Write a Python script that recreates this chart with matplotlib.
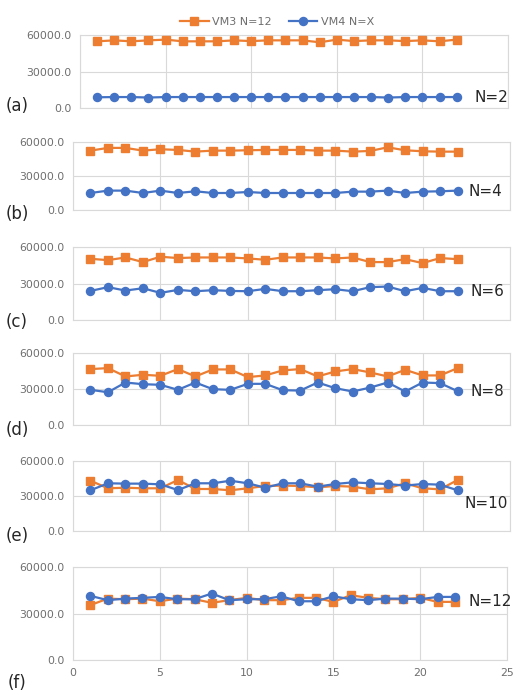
import matplotlib
matplotlib.use("Agg")
import matplotlib.pyplot as plt

W, H = 516, 695

x = list(range(1, 23))

vm3_a = [54800, 55600, 54800, 55600, 56200, 54800, 54800, 54800, 55600, 55000, 55600, 55600,
         55600, 54000, 56200, 55000, 55600, 55600, 55000, 55600, 54800, 56200]
vm4_a = [8800, 9000, 9000, 8600, 9000, 9000, 9000, 9000, 9000, 9000, 9000, 9000,
         9000, 9000, 9000, 9000, 9000, 8600, 9000, 9000, 9000, 9000]

vm3_b = [52400, 54800, 54800, 52400, 53600, 53000, 51500, 52400, 52400, 52700, 53000, 53000,
         53000, 52400, 52400, 51500, 52100, 55300, 52700, 51800, 51500, 51500]
vm4_b = [15000, 17100, 17100, 15000, 17100, 15000, 16500, 15000, 15000, 15900, 15000, 15000,
         15000, 15000, 15000, 16200, 16200, 17100, 15000, 16200, 16500, 17100]

vm3_c = [50300, 49200, 51400, 47600, 52000, 50900, 51400, 51400, 51400, 50600, 49500, 51400,
         51400, 51400, 50600, 51400, 47600, 47600, 50000, 46750, 50900, 50000]
vm4_c = [23900, 27000, 24200, 26100, 22300, 24750, 23650, 24500, 23900, 23650, 25600, 23650,
         23650, 24500, 25300, 23650, 27000, 27500, 23650, 26400, 23650, 23650]

vm3_d = [46600, 47400, 40450, 41850, 41000, 46600, 40450, 46300, 46300, 39900, 41300, 45500,
         46600, 40450, 44600, 46600, 43800, 40450, 46000, 41300, 41300, 47400]
vm4_d = [29300, 27300, 35400, 34000, 33500, 29300, 35400, 29850, 29300, 34300, 34300, 29000,
         28700, 35400, 30700, 27900, 31200, 35400, 27900, 35400, 34900, 28200]

vm3_e = [43100, 36600, 37100, 36600, 36600, 43700, 36000, 36000, 34900, 36600, 38600, 38900,
         38600, 37400, 38600, 38000, 35700, 36600, 40900, 36600, 35700, 43700]
vm4_e = [34900, 40900, 40600, 40600, 40000, 35100, 40900, 40900, 43100, 40900, 37100, 40900,
         40900, 38000, 40300, 41700, 40900, 40300, 38900, 40300, 39700, 34900]

vm3_f = [35400, 39600, 39200, 39600, 37900, 39600, 39200, 36900, 38600, 40100, 38600, 38600,
         40100, 40100, 37500, 41800, 40100, 39200, 39200, 40100, 37500, 37500]
vm4_f = [41400, 38600, 39600, 40100, 40700, 39200, 39200, 42900, 38600, 39200, 39200, 41100,
         37900, 37900, 41100, 39200, 38600, 39600, 39600, 39200, 40700, 40700]

panels = ["(a)", "(b)", "(c)", "(d)", "(e)", "(f)"]
n_labels = ["N=2", "N=4", "N=6", "N=8", "N=10", "N=12"]
vm3_all = [vm3_a, vm3_b, vm3_c, vm3_d, vm3_e, vm3_f]
vm4_all = [vm4_a, vm4_b, vm4_c, vm4_d, vm4_e, vm4_f]
y_ticks = [0, 30000, 60000]
x_ticks = [0, 5, 10, 15, 20, 25]
legend_labels = ["VM3 N=12", "VM4 N=X"]

ORANGE = "#ED7D31"
BLUE = "#4472C4"
GRID = "#D9D9D9"
TXT = "#6E6E6E"

# pixel boxes: left, right, top, bottom
boxes = [(80, 508, 35, 108), (73, 510, 142, 210), (73, 510, 247, 320),
         (73, 510, 353, 425), (73, 510, 461, 531), (73, 507, 567, 660)]
label_pos = [(17, 106), (17, 214), (17, 322), (17, 430), (17, 536), (17, 683)]
n_pos = [(475, 97), (468, 192), (470, 291), (470, 392), (465, 504), (468, 602)]

fig = plt.figure(figsize=(W / 100, H / 100), dpi=100)
fig.patch.set_facecolor("white")

for i in range(6):
    l, r, t, b = boxes[i]
    ax = fig.add_axes([l / W, 1 - b / H, (r - l) / W, (b - t) / H])
    ax.plot(x, vm3_all[i], color=ORANGE, marker="s", markersize=5.8, linewidth=1.6,
            label=legend_labels[0], zorder=3)
    ax.plot(x, vm4_all[i], color=BLUE, marker="o", markersize=5.8, linewidth=1.6,
            label=legend_labels[1], zorder=4)
    ax.set_xlim(0, 25)
    ax.set_ylim(0, 60000)
    ax.set_yticks(y_ticks)
    ax.set_yticklabels([f"{v:.1f}" for v in y_ticks])
    ax.set_xticks(x_ticks)
    if i == 5:
        ax.set_xticklabels([str(v) for v in x_ticks])
    else:
        ax.set_xticklabels([])
    ax.tick_params(length=0, labelsize=7.8, colors=TXT, pad=6)
    ax.grid(True, color=GRID, linewidth=0.8)
    ax.set_axisbelow(True)
    for s in ax.spines.values():
        s.set_color(GRID)
        s.set_linewidth(0.8)
    lx, ly = label_pos[i]
    fig.text(lx / W, 1 - ly / H, panels[i], fontsize=12, color="#262626",
             ha="center", va="center")
    nx, ny = n_pos[i]
    fig.text(nx / W, 1 - ny / H, n_labels[i], fontsize=11, color="#262626",
             ha="left", va="center")
    if i == 0:
        handles, labels = ax.get_legend_handles_labels()

leg = fig.legend(handles, labels, loc="center", bbox_to_anchor=(277 / W, 1 - 22 / H),
                 ncol=2, frameon=False, fontsize=8, handlelength=2.6,
                 columnspacing=1.5, handletextpad=0.3)
for t in leg.get_texts():
    t.set_color(TXT)

fig.savefig("out.png", dpi=100)
